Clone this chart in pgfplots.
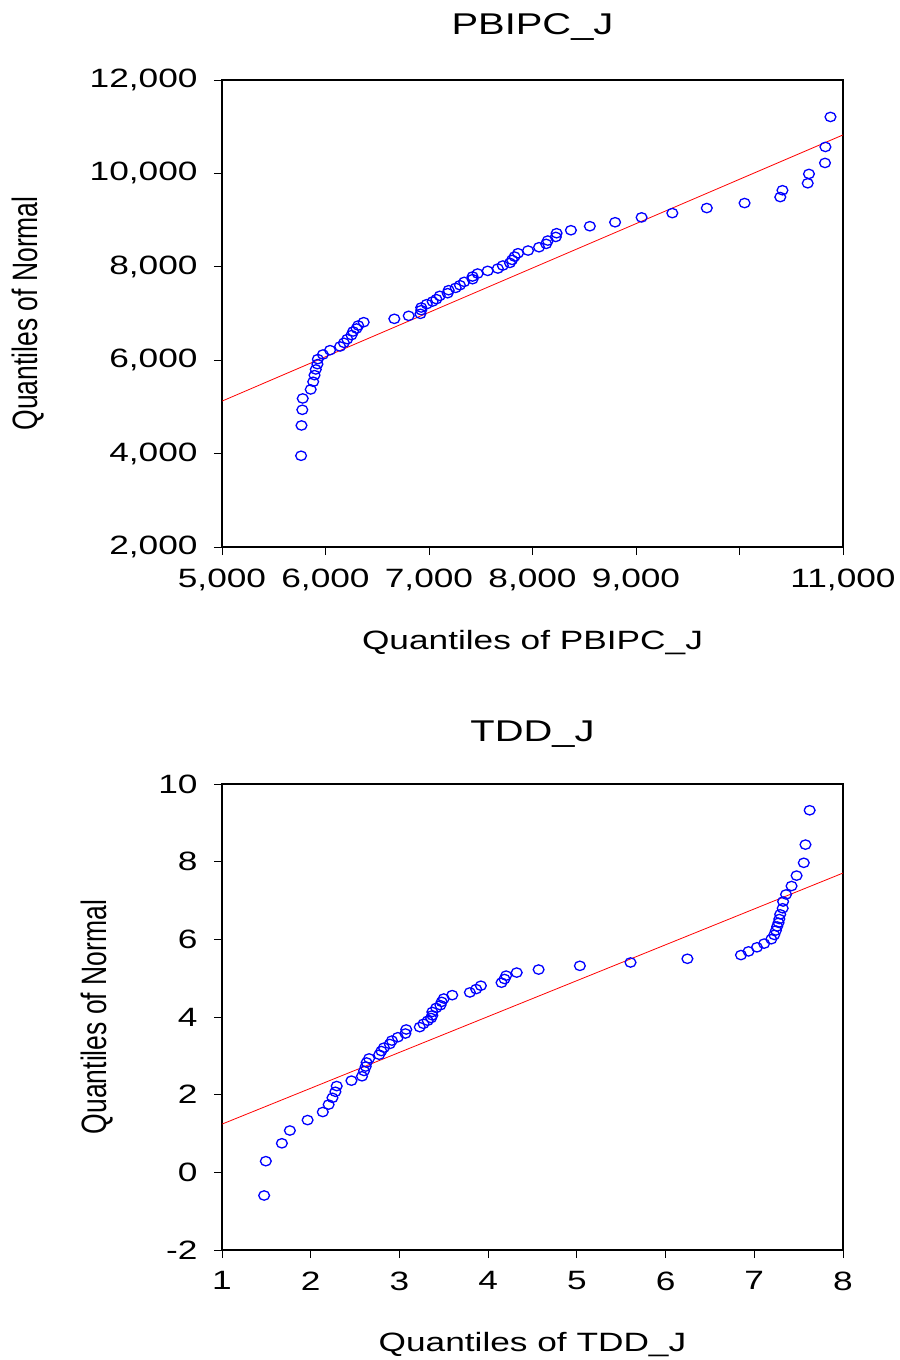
\documentclass[border=0pt]{standalone}
\usepackage{pgfplots}
\usepackage{graphicx}
\pgfplotsset{compat=1.18}
\usepackage{fontspec}
\setmainfont{Liberation Sans}
\newcommand{\fnt}{\fontsize{26.5bp}{30bp}\selectfont}
\newcommand{\tfnt}{\fontsize{30bp}{34bp}\selectfont}
\newcommand{\hs}[1]{\scalebox{1.33}[1]{#1}}
\newcommand{\vs}[1]{\scalebox{1}[1.33]{#1}}

\pgfplotstableread{
x y
5764 3954
5768 4603
5776 4938
5780 5181
5857 5374
5881 5538
5894 5680
5906 5802
5922 5916
5926 6023
5975 6122
6044 6215
6141 6294
6178 6372
6210 6451
6251 6537
6267 6615
6300 6679
6316 6743
6369 6814
6665 6886
6804 6950
6917 6993
6925 7071
6925 7128
6978 7200
7035 7257
7072 7307
7104 7378
7180 7435
7190 7499
7258 7549
7299 7606
7340 7677
7421 7735
7421 7792
7470 7856
7567 7913
7665 7963
7713 8027
7782 8084
7803 8148
7827 8219
7860 8291
7957 8348
8063 8419
8132 8491
8148 8562
8225 8640
8233 8719
8371 8783
8554 8869
8798 8954
9054 9058
9351 9150
9684 9258
10049 9365
10394 9493
10415 9639
10659 9789
10671 9989
10826 10224
10830 10567
10879 11209
}\pbipc

\pgfplotstableread{
x y
1.475 -0.596
1.494 0.288
1.675 0.748
1.765 1.077
1.965 1.346
2.136 1.554
2.202 1.745
2.245 1.919
2.278 2.075
2.293 2.222
2.459 2.361
2.578 2.474
2.601 2.612
2.620 2.725
2.630 2.829
2.658 2.933
2.772 3.029
2.796 3.124
2.825 3.211
2.891 3.306
2.915 3.393
2.982 3.479
3.067 3.575
3.077 3.679
3.229 3.740
3.271 3.826
3.319 3.904
3.357 3.974
3.371 4.043
3.371 4.130
3.414 4.234
3.462 4.303
3.476 4.390
3.500 4.476
3.595 4.563
3.794 4.633
3.865 4.719
3.918 4.806
4.151 4.884
4.184 4.979
4.203 5.066
4.322 5.144
4.569 5.222
5.034 5.318
5.605 5.404
6.246 5.500
6.850 5.595
6.935 5.690
7.030 5.795
7.111 5.890
7.192 6.003
7.225 6.115
7.244 6.228
7.258 6.332
7.273 6.427
7.282 6.523
7.292 6.644
7.320 6.800
7.325 6.974
7.358 7.156
7.420 7.373
7.477 7.641
7.558 7.971
7.577 8.439
7.624 9.324
}\tdd

\pgfplotsset{
  qq/.style={
    scale only axis,
    width=621bp,
    anchor=south west,
    scaled ticks=false,
    tick align=outside,
    xtick pos=left, ytick pos=left,
    major tick length=8bp,
    axis line style={line width=1.6bp},
    every tick/.style={black, line width=1bp},
    tick label style={font=\fnt},
    label style={font=\fnt},
    title style={font=\tfnt},
    xticklabel style={yshift=-10bp},
    yticklabel style={xshift=-13bp},
  },
  qqmark/.style={only marks, mark=o, blue, mark size=4.7bp, mark options={line width=1.3bp, xscale=1.15}},
  qqline/.style={red, line width=0.8bp, no markers},
}

\begin{document}
\begin{tikzpicture}
\path[use as bounding box] (0,0) rectangle (900bp,-1360bp);

\begin{axis}[qq,
  at={(222bp,-547bp)}, height=467bp,
  xmin=5000, xmax=11000, ymin=2000, ymax=12000,
  xtick={5000,6000,7000,8000,9000,10000,11000},
  xticklabels={{\hs{5,000}},{\hs{6,000}},{\hs{7,000}},{\hs{8,000}},{\hs{9,000}},{},{\hs{11,000}}},
  ytick={2000,4000,6000,8000,10000,12000},
  yticklabels={{\hs{2,000}},{\hs{4,000}},{\hs{6,000}},{\hs{8,000}},{\hs{10,000}},{\hs{12,000}}},
  title={\hs{PBIPC\_J}},
  title style={at={(axis description cs:0.5,1.1)}, anchor=center},
  xlabel={\hs{Quantiles of PBIPC\_J}},
  xlabel style={at={(axis description cs:0.5,-0.205)}, anchor=center},
  ylabel={\vs{Quantiles of Normal}},
  ylabel style={at={(axis description cs:-0.3124,0.5)}, anchor=center, rotate=0},
]
\addplot[qqline] coordinates {(5000,5124) (11000,10824)};
\addplot[qqmark] table[x=x,y=y] {\pbipc};
\end{axis}

\begin{axis}[qq,
  at={(222bp,-1250bp)}, height=466bp,
  xmin=1, xmax=8, ymin=-2, ymax=10,
  xtick={1,2,3,4,5,6,7,8},
  xticklabels={{\hs{1}},{\hs{2}},{\hs{3}},{\hs{4}},{\hs{5}},{\hs{6}},{\hs{7}},{\hs{8}}},
  ytick={-2,0,2,4,6,8,10},
  yticklabels={{\hs{-2}},{\hs{0}},{\hs{2}},{\hs{4}},{\hs{6}},{\hs{8}},{\hs{10}}},
  title={\hs{TDD\_J}},
  title style={at={(axis description cs:0.5,1.095)}, anchor=center},
  xlabel={\hs{Quantiles of TDD\_J}},
  xlabel style={at={(axis description cs:0.5,-0.202)}, anchor=center},
  ylabel={\vs{Quantiles of Normal}},
  ylabel style={at={(axis description cs:-0.201,0.5)}, anchor=center, rotate=0},
]
\addplot[qqline] coordinates {(1,1.242) (8,7.707)};
\addplot[qqmark] table[x=x,y=y] {\tdd};
\end{axis}
\end{tikzpicture}
\end{document}
